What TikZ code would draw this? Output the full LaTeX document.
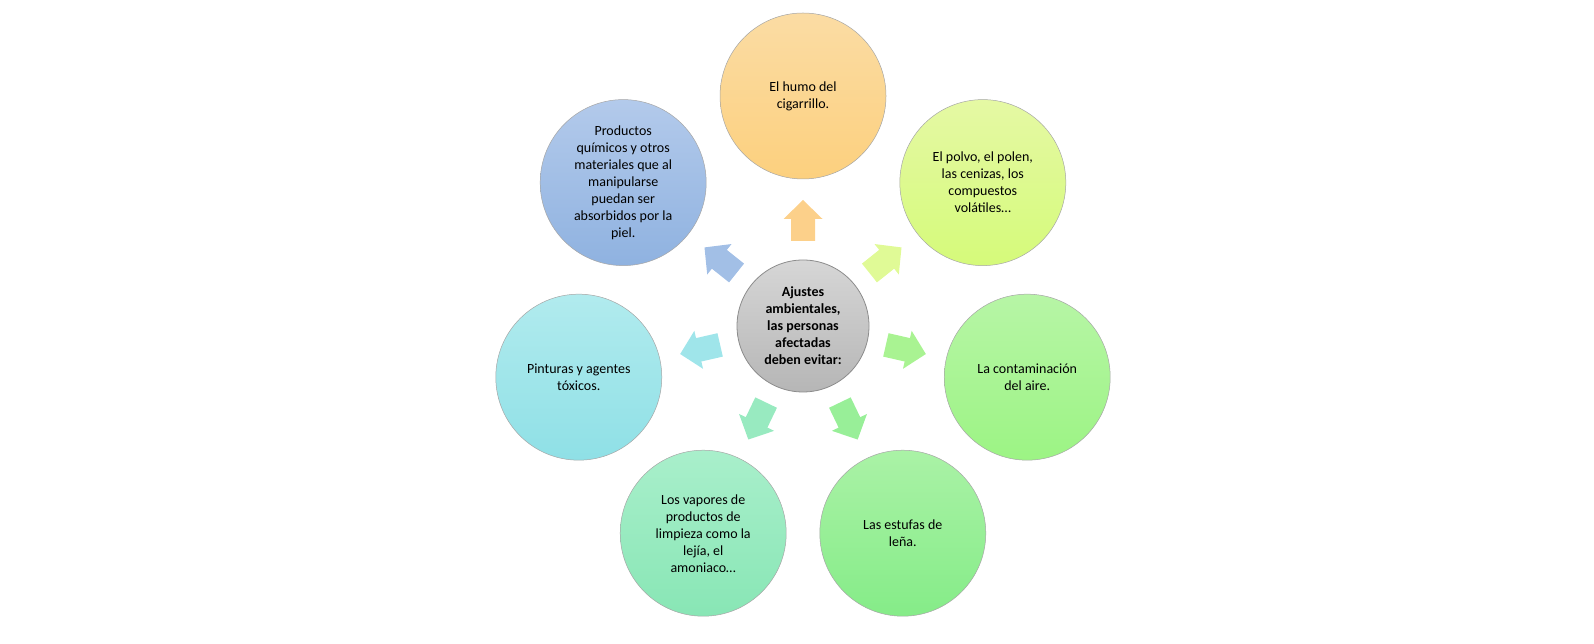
\documentclass[tikz,border=0pt]{standalone}
\usepackage{fontspec}
\setmainfont{Carlito}
\usetikzlibrary{calc}

% colores de los circulos (arriba, abajo) y de las flechas
\definecolor{top0}{HTML}{FBDCA4}\definecolor{bot0}{HTML}{FCD07E}\definecolor{arr0}{HTML}{FCD08A}
\definecolor{top1}{HTML}{E5F9A4}\definecolor{bot1}{HTML}{D5FA7A}\definecolor{arr1}{HTML}{E0FA96}
\definecolor{top2}{HTML}{B7F5A6}\definecolor{bot2}{HTML}{9CF484}\definecolor{arr2}{HTML}{A9F392}
\definecolor{top3}{HTML}{AAF2A6}\definecolor{bot3}{HTML}{85EC88}\definecolor{arr3}{HTML}{98EF98}
\definecolor{top4}{HTML}{A9EFCB}\definecolor{bot4}{HTML}{88E6B5}\definecolor{arr4}{HTML}{98EAC0}
\definecolor{top5}{HTML}{B1EBEE}\definecolor{bot5}{HTML}{8FE0E6}\definecolor{arr5}{HTML}{9FE5EA}
\definecolor{top6}{HTML}{B3CAEB}\definecolor{bot6}{HTML}{8FB2E0}\definecolor{arr6}{HTML}{A2BFE6}
\definecolor{hubtop}{HTML}{D6D6D6}\definecolor{hubbot}{HTML}{B6B6B6}

\begin{document}
\begin{tikzpicture}[x=1pt,y=1pt,
    bubble/.style={circle, draw=black!35, line width=0.5pt, minimum size=166pt, inner sep=0pt,
        align=center, font=\fontsize{14}{17}\selectfont},
    hub/.style={circle, draw=black!45, line width=0.8pt, minimum size=132pt, inner sep=0pt,
        align=center, top color=hubtop, bottom color=hubbot,
        font=\fontsize{14}{17}\selectfont\bfseries}]
    \useasboundingbox (0,0) rectangle (1594,644);

    % circulo central
    \node[hub] (hub) at (803,318) {Ajustes\\ambientales,\\las personas\\afectadas\\deben evitar:};

    % circulos exteriores y flechas
    \foreach \i/\txt in {
        0/{El humo del\\cigarrillo.},
        1/{El polvo, el polen,\\las cenizas, los\\compuestos\\volátiles…},
        2/{La contaminación\\del aire.},
        3/{Las estufas de\\leña.},
        4/{Los vapores de\\productos de\\limpieza como la\\lejía, el\\amoniaco…},
        5/{Pinturas y agentes\\tóxicos.},
        6/{Productos\\químicos y otros\\materiales que al\\manipularse\\puedan ser\\absorbidos por la\\piel.}} {
        \pgfmathsetmacro{\ang}{90-\i*360/7}
        \node[bubble, top color=top\i, bottom color=bot\i] (b\i) at ($(hub.center)+(\ang:230)$) {\txt};
        \fill[arr\i, shift={(hub.center)}, rotate=\ang-90]
            (-12,85) -- (12,85) -- (12,107) -- (19.5,107) -- (0,126) -- (-19.5,107) -- (-12,107) -- cycle;
    }
\end{tikzpicture}
\end{document}
